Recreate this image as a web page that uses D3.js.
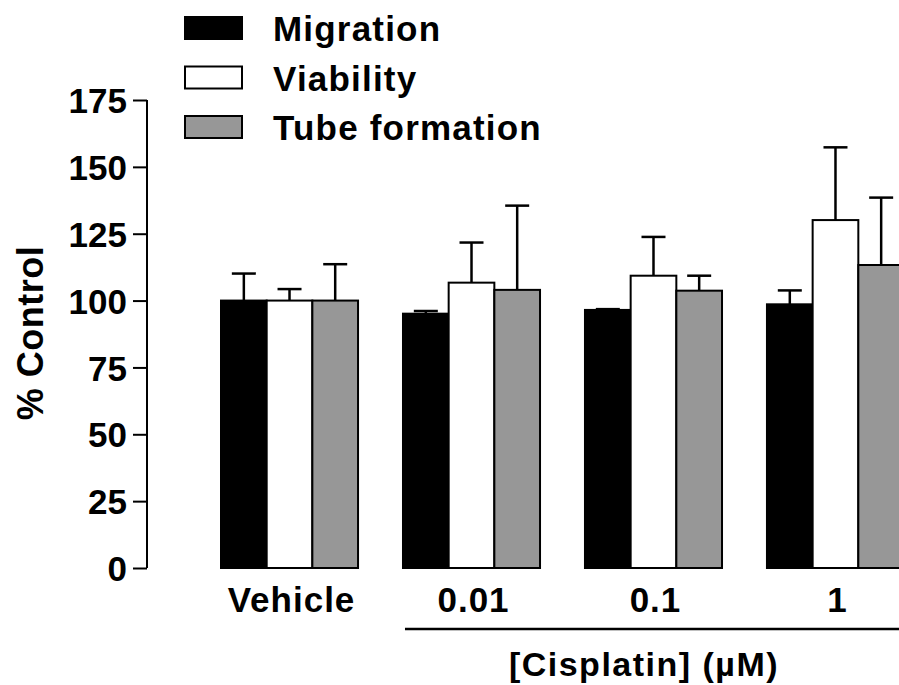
<!DOCTYPE html>
<html>
<head>
<meta charset="utf-8">
<script src="https://cdn.jsdelivr.net/npm/d3@7"></script>
<style>
  body { margin: 0; background: #fff; }
  svg { display: block; font-family: 'Liberation Sans', Arial, sans-serif; font-weight: bold; }
</style>
</head>
<body>
<div id="chart"></div>
<script>
// groups along the x axis
const categories = ['Vehicle', '0.01', '0.1', '1']
const series = ['Migration', 'Viability', 'Tube formation']
const colors = ['#000000', '#ffffff', '#979797']

// means and upper SEM, in % of control
const migration = [100, 95.1, 96.5, 98.6]
const migrationErr = [10.1, 1.0, 0.3, 5.2]
const viability = [100, 106.7, 109.3, 130.1]
const viabilityErr = [4.3, 15.0, 14.5, 27.2]
const tube = [100, 104.0, 103.7, 113.3]
const tubeErr = [13.6, 31.5, 5.6, 25.2]

const yTicks = [0, 25, 50, 75, 100, 125, 150, 175]

const width = 899
const height = 685

let values = [migration, viability, tube]
let errors = [migrationErr, viabilityErr, tubeErr]

let svg = d3.select('#chart').append('svg')
  .attr('width', width)
  .attr('height', height)

let y = d3.scaleLinear().domain([0, 175]).range([568, 100])

let x0 = d3.scaleBand()
  .domain(categories)
  .range([221, 904])
  .paddingInner(0.247)
  .paddingOuter(0)

let x1 = d3.scaleBand()
  .domain(series)
  .range([0, x0.bandwidth()])

// y axis
let yAxis = svg.append('g')
  .attr('transform', 'translate(147,0)')
  .call(d3.axisLeft(y).tickValues(yTicks).tickSize(14).tickPadding(6))
yAxis.selectAll('path, line').attr('stroke', '#000').attr('stroke-width', 2)
yAxis.select('.domain').attr('d', 'M0,' + y(175) + 'V' + y(0))
yAxis.selectAll('text')
  .attr('fill', '#000')
  .style('font-size', '35px')
  .style('font-weight', 'bold')
  .attr('dy', '0.36em')

svg.append('text')
  .attr('transform', 'translate(43,333) rotate(-90)')
  .attr('text-anchor', 'middle')
  .style('font-size', '36px')
  .style('letter-spacing', '0.5px')
  .text('% Control')

// bars
let group = svg.selectAll('.grp')
  .data(categories)
  .enter()
  .append('g')
  .attr('class', 'grp')
  .attr('transform', d => 'translate(' + x0(d) + ',0)')

series.forEach((s, si) => {
  group.append('rect')
    .attr('x', x1(s))
    .attr('y', (d, i) => y(values[si][i]))
    .attr('width', x1.bandwidth())
    .attr('height', (d, i) => y(0) - y(values[si][i]))
    .attr('fill', colors[si])
    .attr('stroke', '#000')
    .attr('stroke-width', 2)

  let cx = x1(s) + x1.bandwidth() / 2
  group.append('line')
    .attr('x1', cx).attr('x2', cx)
    .attr('y1', (d, i) => y(values[si][i]))
    .attr('y2', (d, i) => y(values[si][i] + errors[si][i]))
    .attr('stroke', '#000')
    .attr('stroke-width', 2.5)
  group.append('line')
    .attr('x1', cx - 12).attr('x2', cx + 12)
    .attr('y1', (d, i) => y(values[si][i] + errors[si][i]))
    .attr('y2', (d, i) => y(values[si][i] + errors[si][i]))
    .attr('stroke', '#000')
    .attr('stroke-width', 2.5)
})

// category labels
svg.selectAll('.cat')
  .data(categories)
  .enter()
  .append('text')
  .attr('class', 'cat')
  .attr('x', d => x0(d) + x0.bandwidth() / 2 + 2)
  .attr('y', 612)
  .attr('text-anchor', 'middle')
  .style('font-size', '35px')
  .style('letter-spacing', '1px')
  .text(d => d)

// cisplatin bracket
svg.append('line')
  .attr('x1', x0('0.01') + 2).attr('x2', width)
  .attr('y1', 629).attr('y2', 629)
  .attr('stroke', '#000')
  .attr('stroke-width', 2.5)

svg.append('text')
  .attr('x', 644)
  .attr('y', 676)
  .attr('text-anchor', 'middle')
  .style('font-size', '34px')
  .style('letter-spacing', '1.5px')
  .text('[Cisplatin] (\u00b5M)')

// legend
let legend = svg.selectAll('.leg')
  .data(series)
  .enter()
  .append('g')
  .attr('class', 'leg')
  .attr('transform', (d, i) => 'translate(185,' + (17 + i * 49.5) + ')')

legend.append('rect')
  .attr('width', 57)
  .attr('height', 22)
  .attr('fill', (d, i) => colors[i])
  .attr('stroke', '#000')
  .attr('stroke-width', 2)

legend.append('text')
  .attr('x', 88)
  .attr('y', 24)
  .style('font-size', '35px')
  .style('letter-spacing', '1.2px')
  .text(d => d)
</script>
</body>
</html>
